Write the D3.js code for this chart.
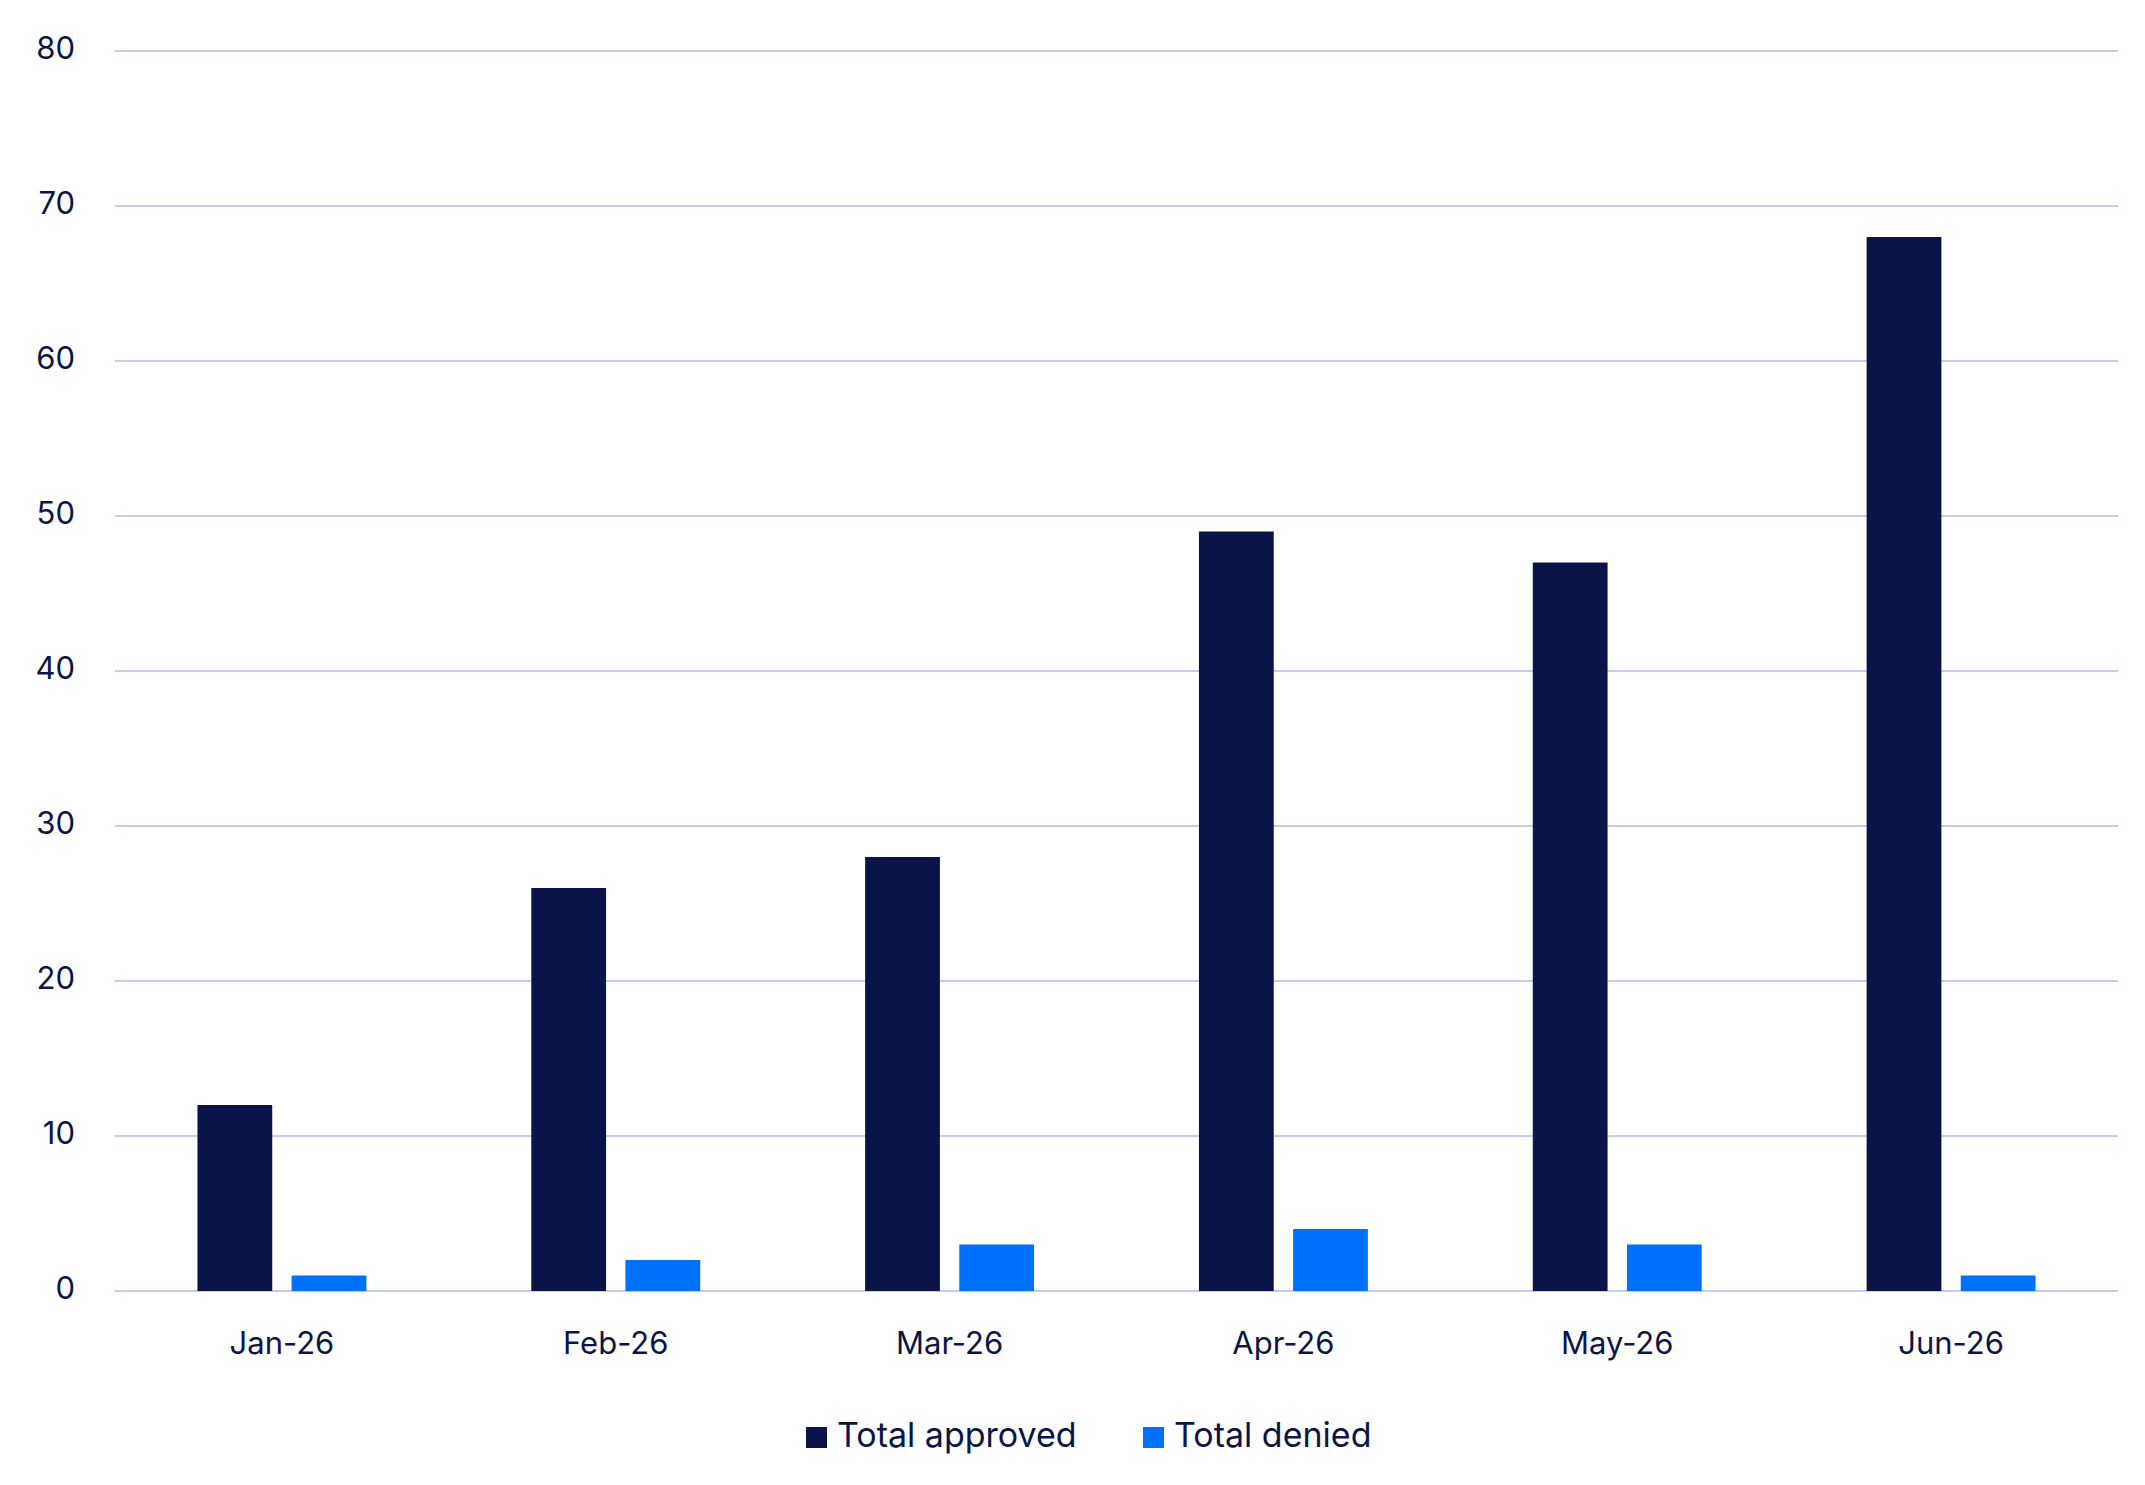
<!DOCTYPE html>
<html><head><meta charset="utf-8">
<script src="https://cdn.jsdelivr.net/npm/d3@7"></script>
<style>body{margin:0;background:#fff;font-family:Inter,"Noto Sans",sans-serif;}</style>
</head><body>
<svg id="chart" width="2145" height="1485"></svg>
<script>
const months = ["Jan-26", "Feb-26", "Mar-26", "Apr-26", "May-26", "Jun-26"];
const approved = [12, 26, 28, 49, 47, 68];
const denied = [1, 2, 3, 4, 3, 1];
const yTicks = [0, 10, 20, 30, 40, 50, 60, 70, 80];
const seriesNames = ["Total approved", "Total denied"];
const colors = ["#0b1448", "#0070ff"];

const svg = d3.select("#chart");
const plotLeft = 115, plotRight = 2118, plotTop = 51, plotBottom = 1291;
const ink = "#0b1448";

const x = d3.scaleBand().domain(months).range([plotLeft, plotRight]);
const y = d3.scaleLinear().domain([0, 80]).range([plotBottom, plotTop]);

svg.append("g")
  .selectAll("line")
  .data(yTicks)
  .enter()
  .append("line")
  .attr("x1", plotLeft).attr("x2", plotRight)
  .attr("y1", (d) => y(d)).attr("y2", (d) => y(d))
  .attr("stroke", "#c3cbf3").attr("stroke-width", 2);

svg.append("g")
  .selectAll("text")
  .data(yTicks)
  .enter()
  .append("text")
  .attr("x", 75).attr("y", (d) => y(d))
  .attr("text-anchor", "end").attr("dominant-baseline", "middle")
  .attr("font-size", 31).attr("fill", ink)
  .text((d) => d);

const barW = x.bandwidth() * 0.224;
const gap = x.bandwidth() * 0.058;
[approved, denied].forEach((vals, i) => {
  svg.append("g")
    .selectAll("rect")
    .data(vals)
    .enter()
    .append("rect")
    .attr("x", (d, j) => x(months[j]) + x.bandwidth() / 2 + (i === 0 ? -gap / 2 - barW : gap / 2))
    .attr("y", (d) => y(d))
    .attr("width", barW)
    .attr("height", (d) => plotBottom - y(d))
    .attr("fill", colors[i]);
});

svg.append("g")
  .selectAll("text")
  .data(months)
  .enter()
  .append("text")
  .attr("x", (d) => x(d) + x.bandwidth() / 2).attr("y", 1346)
  .attr("text-anchor", "middle").attr("dominant-baseline", "middle")
  .attr("font-size", 31).attr("fill", ink)
  .text((d) => d);

const legendX = [806, 1143];
seriesNames.forEach((name, i) => {
  svg.append("rect").attr("x", legendX[i]).attr("y", 1427).attr("width", 21).attr("height", 21).attr("fill", colors[i]);
  svg.append("text").attr("x", legendX[i] + 31).attr("y", 1438)
    .attr("dominant-baseline", "middle").attr("font-size", 34).attr("fill", ink).text(name);
});
</script>
</body></html>
